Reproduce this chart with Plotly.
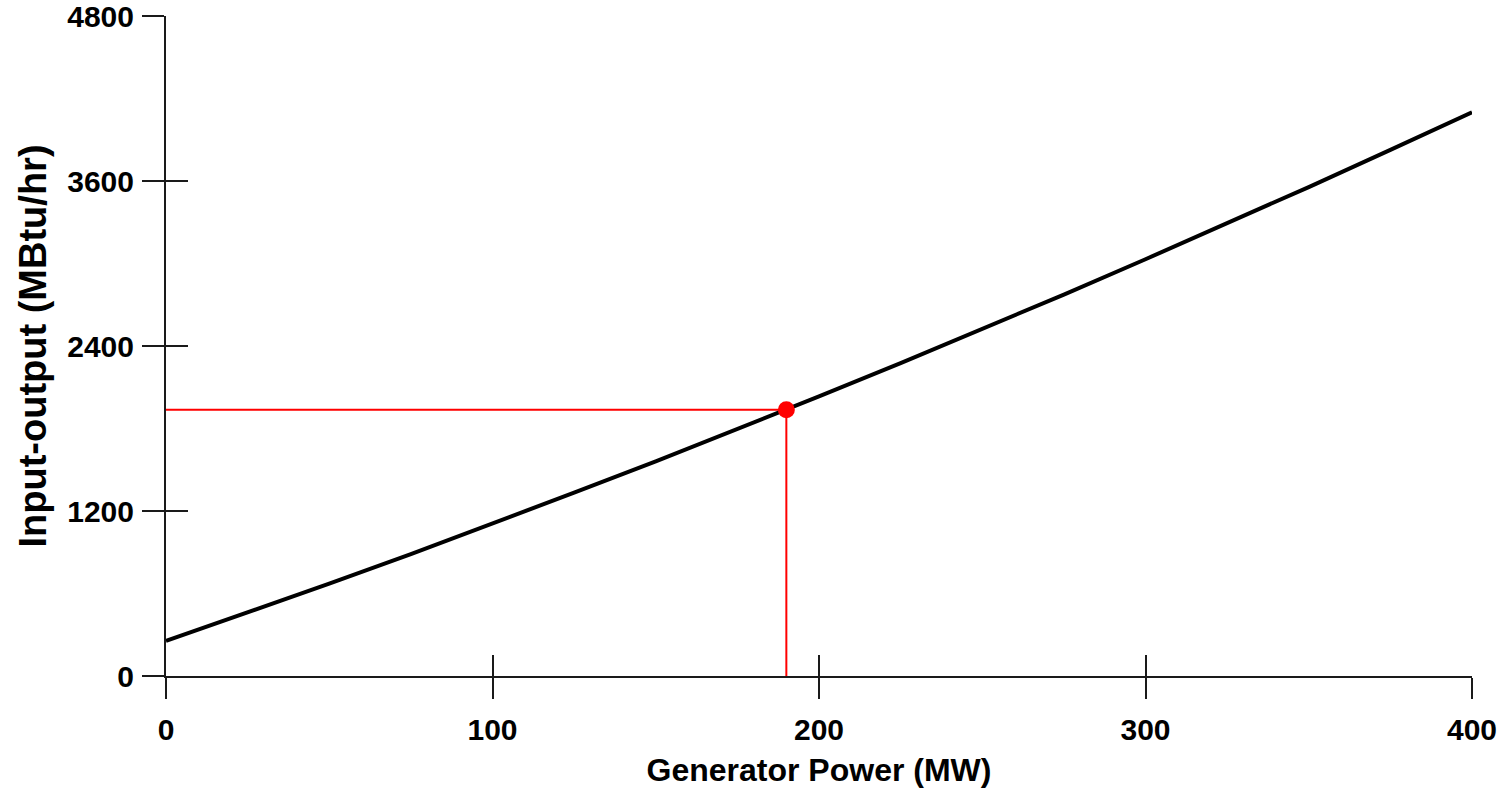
import plotly.graph_objects as go

# Input-output curve
power_mw = [0, 25, 50, 75, 100, 125, 150, 175, 200, 225, 250, 275, 300, 325, 350, 375, 400]
input_mbtu = [255, 461, 672, 887, 1108, 1333, 1561, 1795, 2033, 2275, 2522, 2774, 3031, 3291, 3556, 3826, 4100]

# Operating point
op_power = [190]
op_input = [1937]

x_ticks = [0, 100, 200, 300, 400]
y_ticks = [0, 1200, 2400, 3600, 4800]
x_range = [0, 400]
y_range = [0, 4800]

FONT = "Liberation Sans, Arial, sans-serif"
AX = "#1a1a1a"

fig = go.Figure()

# guide lines to axes
fig.add_trace(go.Scatter(
    x=[x_range[0], op_power[0], op_power[0]],
    y=[op_input[0], op_input[0], y_range[0]],
    mode="lines", line=dict(color="#ff0000", width=2), hoverinfo="skip",
    showlegend=False))

fig.add_trace(go.Scatter(
    x=power_mw, y=input_mbtu, mode="lines",
    line=dict(color="#000000", width=4), showlegend=False))

fig.add_trace(go.Scatter(
    x=op_power, y=op_input, mode="markers",
    marker=dict(color="#ff0000", size=17), showlegend=False))

# dummy traces on the overlay axes (for inward tick halves)
fig.add_trace(go.Scatter(x=[None], y=[None], xaxis="x2", yaxis="y",
                         mode="markers", showlegend=False, hoverinfo="skip"))
fig.add_trace(go.Scatter(x=[None], y=[None], xaxis="x", yaxis="y2",
                         mode="markers", showlegend=False, hoverinfo="skip"))

tickfont = dict(family=FONT, size=30, color="#000000", weight="bold")

fig.update_layout(
    width=1511, height=788,
    paper_bgcolor="white", plot_bgcolor="white",
    margin=dict(l=166, r=39, t=16, b=112, autoexpand=False),
    showlegend=False,
    xaxis=dict(
        range=x_range, tickvals=x_ticks, ticktext=[str(v) for v in x_ticks],
        ticks="outside", ticklen=21, tickwidth=2, tickcolor=AX,
        showline=True, linewidth=2, linecolor=AX,
        showgrid=False, zeroline=False, tickfont=tickfont,
        ticklabelstandoff=5, automargin=False, ticklabeloverflow="allow",
        title=dict(text="Generator Power (MW)", standoff=14,
                   font=dict(family=FONT, size=32, color="#000000", weight="bold")),
        anchor="y",
    ),
    yaxis=dict(
        range=y_range, tickvals=y_ticks, ticktext=[str(v) for v in y_ticks],
        ticks="outside", ticklen=22, tickwidth=2, tickcolor=AX,
        showline=True, linewidth=2, linecolor=AX,
        showgrid=False, zeroline=False, tickfont=tickfont,
        ticklabelstandoff=2, automargin=False, ticklabeloverflow="allow",
        title=dict(text="Input-output (MBtu/hr)", standoff=9,
                   font=dict(family=FONT, size=38, color="#000000", weight="bold")),
        anchor="x",
    ),
    xaxis2=dict(
        range=x_range, tickvals=x_ticks, overlaying="x", anchor="y", side="bottom",
        ticks="inside", ticklen=21, tickwidth=2, tickcolor=AX,
        showticklabels=False, showline=False, showgrid=False, zeroline=False,
        automargin=False,
    ),
    yaxis2=dict(
        range=y_range, tickvals=y_ticks, overlaying="y", anchor="x", side="left",
        ticks="inside", ticklen=22, tickwidth=2, tickcolor=AX,
        showticklabels=False, showline=False, showgrid=False, zeroline=False,
        automargin=False,
    ),
)

fig.write_html(
    "out.html",
    config={"displayModeBar": False},
    post_script="document.body.style.margin='0';document.body.style.overflow='hidden';",
)
